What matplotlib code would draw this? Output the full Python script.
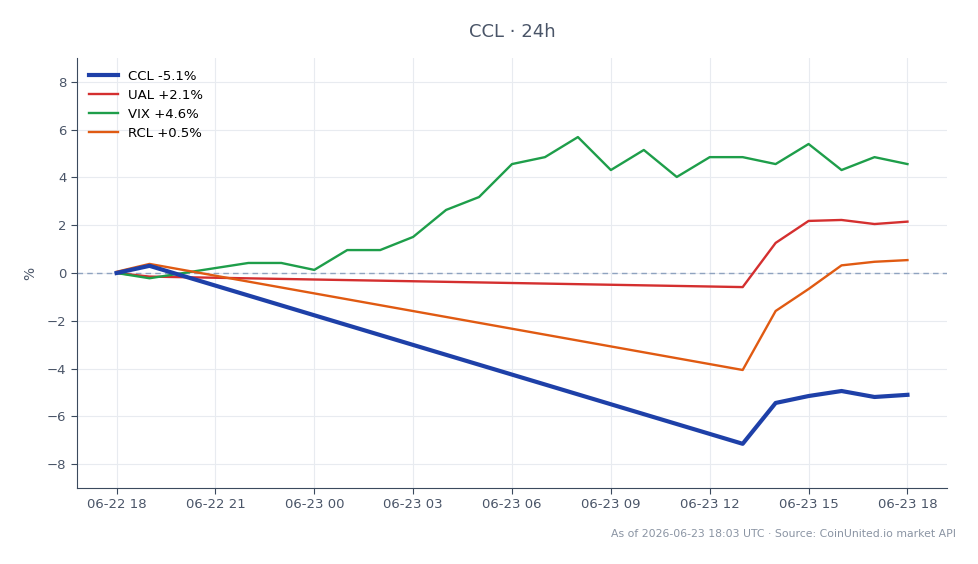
import pandas as pd
import numpy as np
import matplotlib
matplotlib.use('Agg')
import matplotlib.pyplot as plt
import matplotlib.dates as mdates

# Datos: horas y % de variación
ccl_t = ['2026-06-22 18:00', '2026-06-22 19:00', '2026-06-23 13:00', '2026-06-23 14:00',
         '2026-06-23 15:00', '2026-06-23 16:00', '2026-06-23 17:00', '2026-06-23 18:00']
ccl_v = [0.0, 0.3, -7.15, -5.44, -5.15, -4.94, -5.19, -5.1]

ual_t = ['2026-06-22 18:00', '2026-06-22 19:00', '2026-06-23 13:00', '2026-06-23 14:00',
         '2026-06-23 15:00', '2026-06-23 16:00', '2026-06-23 17:00', '2026-06-23 18:00']
ual_v = [0.0, -0.15, -0.59, 1.26, 2.18, 2.22, 2.05, 2.15]

vix_t = ['2026-06-22 18:00', '2026-06-22 19:00', '2026-06-22 22:00', '2026-06-22 23:00',
         '2026-06-23 00:00', '2026-06-23 01:00', '2026-06-23 02:00', '2026-06-23 03:00',
         '2026-06-23 04:00', '2026-06-23 05:00', '2026-06-23 06:00', '2026-06-23 07:00',
         '2026-06-23 08:00', '2026-06-23 09:00', '2026-06-23 10:00', '2026-06-23 11:00',
         '2026-06-23 12:00', '2026-06-23 13:00', '2026-06-23 14:00', '2026-06-23 15:00',
         '2026-06-23 16:00', '2026-06-23 17:00', '2026-06-23 18:00']
vix_v = [0.0, -0.22, 0.42, 0.42, 0.13, 0.96, 0.96, 1.51, 2.64, 3.18, 4.56, 4.85,
         5.69, 4.31, 5.15, 4.02, 4.85, 4.85, 4.56, 5.40, 4.31, 4.85, 4.56]

rcl_t = ['2026-06-22 18:00', '2026-06-22 19:00', '2026-06-23 13:00', '2026-06-23 14:00',
         '2026-06-23 15:00', '2026-06-23 16:00', '2026-06-23 17:00', '2026-06-23 18:00']
rcl_v = [0.05, 0.38, -4.06, -1.59, -0.67, 0.32, 0.47, 0.54]

labels = ['CCL -5.1%', 'UAL +2.1%', 'VIX +4.6%', 'RCL +0.5%']
colors = ['#1e40a8', '#d42f2f', '#1e9e4a', '#e05a12']

plt.rcParams.update({
    'font.family': 'DejaVu Sans',
    'axes.edgecolor': '#3b4a5e',
    'xtick.color': '#3b4a5e',
    'ytick.color': '#3b4a5e',
    'xtick.labelcolor': '#4a5568',
    'ytick.labelcolor': '#4a5568',
})

fig = plt.figure(figsize=(9.79, 5.64), dpi=100)
ax = fig.add_axes([77 / 979, 1 - 488 / 564, 870 / 979, 430 / 564])

series = [(ccl_t, ccl_v), (ual_t, ual_v), (vix_t, vix_v), (rcl_t, rcl_v)]
for i, (t, v) in enumerate(series):
    ax.plot(pd.to_datetime(t), v, color=colors[i], lw=3.0 if i == 0 else 1.7,
            label=labels[i], zorder=3 if i == 0 else 2)

ax.axhline(0, color='#8fa3c0', lw=1, ls=(0, (4, 3)), zorder=1)

ax.set_ylim(-9, 9)
ax.set_yticks(np.arange(-8, 9, 2))
ax.set_yticklabels([f'{int(y)}'.replace('-', '\u2212') for y in np.arange(-8, 9, 2)])
ax.xaxis.set_major_locator(mdates.HourLocator(byhour=range(0, 24, 3)))
ax.xaxis.set_major_formatter(mdates.DateFormatter('%m-%d %H'))
ax.margins(x=0.05)

ax.grid(True, color='#e8ebf0', lw=0.8, zorder=0)
ax.set_axisbelow(True)
for s in ['top', 'right']:
    ax.spines[s].set_visible(False)
ax.tick_params(labelsize=9.5, length=4)
ax.set_ylabel('%', color='#4a5568', fontsize=10, labelpad=7)

ax.legend(loc='upper left', frameon=False, fontsize=9.5, handlelength=2.2,
          borderaxespad=0.5, labelspacing=0.45)

fig.text(512 / 979, 1 - 32 / 564, 'CCL · 24h', ha='center', va='center',
         fontsize=13, color='#4a5568')
fig.text(956 / 979, 1 - 534 / 564, 'As of 2026-06-23 18:03 UTC · Source: CoinUnited.io market API',
         ha='right', va='center', fontsize=7.85, color='#8a94a3')

fig.savefig('out.png', dpi=100, facecolor='white')
